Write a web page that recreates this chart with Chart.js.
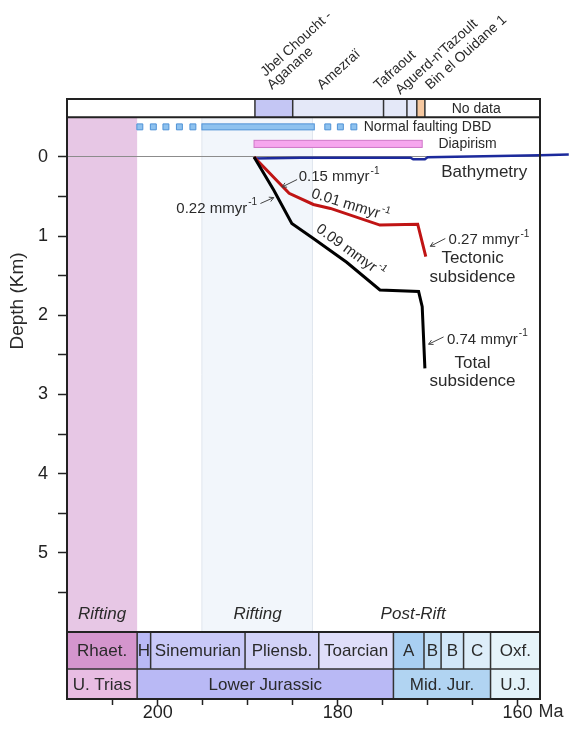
<!DOCTYPE html>
<html>
<head>
<meta charset="utf-8">
<script src="https://cdn.jsdelivr.net/npm/chart.js@4.4.1/dist/chart.umd.min.js"></script>
<style>
html, body { margin: 0; padding: 0; background: #fff; }
#wrap { width: 569px; height: 736px; }
</style>
</head>
<body>
<div id="wrap"><canvas id="subsidenceChart"></canvas></div>
<script>
// ages in Ma, depths in km
const totalAge   = [189.3, 187.1, 185.1, 182.7, 179.0, 175.3, 171.0, 170.6, 170.3];
const totalDepth = [0.0,   0.42,  0.84,  1.03,  1.33,  1.68,  1.70,  1.89,  2.67];

const tectonicAge   = [189.3, 185.4, 182.7, 180.8, 175.3, 171.1, 170.2];
const tectonicDepth = [0.0,   0.46,  0.60,  0.65,  0.86,  0.85,  1.26];

const bathyAge   = [189.3, 184.1, 171.9, 171.6, 170.3, 170.0, 157.5, 154.3];
const bathyDepth = [0.02,  0.01,  0.01,  0.03,  0.03,  0.005, -0.02, -0.03];

const faultDots = [202.0, 200.5, 199.1, 197.6, 196.1, 181.1, 179.7, 178.2];
const faultBar  = [195.1, 182.6];
const diapirism = [189.3, 170.6];

const riftBands  = [[210.1, 202.3], [195.1, 182.8]];
const phaseNames = ['Rifting', 'Rifting', 'Post-Rift'];
const phaseAges  = [206.2, 188.9, 171.6];

const siteNames  = [['Jbel Choucht -', 'Aganane'], ['Amezraï'], ['Tafraout'], ["Aguerd-n'Tazoult"], ['Bin el Ouidane 1']];
const siteBounds = [189.2, 185.0, 174.9, 172.3, 171.2, 170.3];

const stageNames  = ['Rhaet.', 'H', 'Sinemurian', 'Pliensb.', 'Toarcian', 'A', 'B', 'B', 'C', 'Oxf.'];
const stageBounds = [210.1, 202.3, 200.8, 190.3, 182.1, 173.8, 170.4, 168.5, 166.0, 163.0, 157.5];
const seriesNames  = ['U. Trias', 'Lower Jurassic', 'Mid. Jur.', 'U.J.'];
const seriesBounds = [210.1, 202.3, 173.8, 163.0, 157.5];

const rateValues = ['0.22', '0.15', '0.01', '0.09', '0.27', '0.74'];

const depthTicks = [0, 0.5, 1, 1.5, 2, 2.5, 3, 3.5, 4, 4.5, 5, 5.5];
const ageTicks   = [160, 165, 170, 175, 180, 185, 190, 195, 200, 205];
const ageLabels  = [160, 180, 200];

// styles
const FONT = '"Liberation Sans", Arial, sans-serif';
const stageColors  = ['#d495cd', '#b9b9f6', '#c9c9f8', '#d2d2f8', '#dfdefa', '#a9cff2', '#c1def6', '#d1e6f8', '#ddedf9', '#e6f4fa'];
const seriesColors = ['#e8bde3', '#b9b9f5', '#b1d4f2', '#e3f2f9'];
const siteColors   = ['#c4c6f4', '#e4e8f8', '#e4e8f8', '#e4e8f8', '#f6c8a0'];

function pairs(xs, ys) {
    return xs.map((v, i) => ({x: v, y: ys[i]}));
}

function arrow(ctx, x1, y1, x2, y2) {
    const ang = Math.atan2(y2 - y1, x2 - x1);
    const h = 5;
    ctx.beginPath();
    ctx.moveTo(x1, y1);
    ctx.lineTo(x2, y2);
    ctx.moveTo(x2 - h * Math.cos(ang - 0.5), y2 - h * Math.sin(ang - 0.5));
    ctx.lineTo(x2, y2);
    ctx.lineTo(x2 - h * Math.cos(ang + 0.5), y2 - h * Math.sin(ang + 0.5));
    ctx.stroke();
}

function rate(ctx, value, x, y, align, rot) {
    const main = value + ' mmyr';
    ctx.font = '15px ' + FONT;
    const w1 = ctx.measureText(main).width;
    ctx.font = '10px ' + FONT;
    const w2 = ctx.measureText('-1').width;
    const total = w1 + w2 + 1;
    let left = 0;
    if (align == 'right') left = -total;
    if (align == 'center') left = -total / 2;
    ctx.save();
    ctx.translate(x, y);
    if (rot) ctx.rotate(rot);
    ctx.textAlign = 'left';
    ctx.textBaseline = 'middle';
    ctx.font = '15px ' + FONT;
    ctx.fillText(main, left, 0);
    ctx.font = '10px ' + FONT;
    ctx.fillText('-1', left + w1 + 1, -6);
    ctx.restore();
}

const yMin = -0.732, yMax = 6.846;
const tableTop = 6.0, tableMid = 6.467, barBottom = -0.5;

const decor = {
    id: 'decor',
    beforeDraw(chart) {
        const ctx = chart.ctx;
        const x = chart.scales.x, y = chart.scales.y;
        const px = v => x.getPixelForValue(v);
        const py = v => y.getPixelForValue(v);
        ctx.save();
        // phase bands
        ctx.fillStyle = '#e7c7e5';
        ctx.fillRect(px(riftBands[0][0]), py(barBottom), px(riftBands[0][1]) - px(riftBands[0][0]), py(tableTop) - py(barBottom));
        ctx.fillStyle = '#f2f6fb';
        ctx.fillRect(px(riftBands[1][0]), py(barBottom), px(riftBands[1][1]) - px(riftBands[1][0]), py(tableTop) - py(barBottom));
        ctx.strokeStyle = '#e0e6ee';
        ctx.lineWidth = 1;
        ctx.beginPath();
        ctx.moveTo(px(riftBands[1][0]), py(barBottom)); ctx.lineTo(px(riftBands[1][0]), py(tableTop));
        ctx.moveTo(px(riftBands[1][1]), py(barBottom)); ctx.lineTo(px(riftBands[1][1]), py(tableTop));
        ctx.stroke();

        // site bar
        for (let i = 0; i < siteColors.length; i++) {
            ctx.fillStyle = siteColors[i];
            ctx.fillRect(px(siteBounds[i]), py(yMin), px(siteBounds[i + 1]) - px(siteBounds[i]), py(barBottom) - py(yMin));
        }
        // stratigraphic table
        for (let i = 0; i < stageNames.length; i++) {
            ctx.fillStyle = stageColors[i];
            ctx.fillRect(px(stageBounds[i]), py(tableTop), px(stageBounds[i + 1]) - px(stageBounds[i]), py(tableMid) - py(tableTop));
        }
        for (let i = 0; i < seriesNames.length; i++) {
            ctx.fillStyle = seriesColors[i];
            ctx.fillRect(px(seriesBounds[i]), py(tableMid), px(seriesBounds[i + 1]) - px(seriesBounds[i]), py(yMax) - py(tableMid));
        }

        // normal faulting + diapirism bars
        ctx.fillStyle = '#8ec2ef';
        ctx.strokeStyle = '#4f92d6';
        ctx.fillRect(px(faultBar[0]), py(-0.38) - 3, px(faultBar[1]) - px(faultBar[0]), 6);
        ctx.strokeRect(px(faultBar[0]), py(-0.38) - 3, px(faultBar[1]) - px(faultBar[0]), 6);
        ctx.fillStyle = '#f6a6ee';
        ctx.strokeStyle = '#cf78c8';
        ctx.fillRect(px(diapirism[0]), py(-0.21), px(diapirism[1]) - px(diapirism[0]), py(-0.12) - py(-0.21));
        ctx.strokeRect(px(diapirism[0]), py(-0.21), px(diapirism[1]) - px(diapirism[0]), py(-0.12) - py(-0.21));
        ctx.restore();
    },
    afterDraw(chart) {
        const ctx = chart.ctx;
        const a = chart.chartArea;
        const x = chart.scales.x, y = chart.scales.y;
        const px = v => x.getPixelForValue(v);
        const py = v => y.getPixelForValue(v);
        ctx.save();

        // cell borders
        ctx.strokeStyle = '#333';
        ctx.lineWidth = 1.5;
        ctx.beginPath();
        for (let i = 0; i < siteBounds.length; i++) {
            ctx.moveTo(px(siteBounds[i]), py(yMin)); ctx.lineTo(px(siteBounds[i]), py(barBottom));
        }
        for (let i = 1; i < stageBounds.length - 1; i++) {
            ctx.moveTo(px(stageBounds[i]), py(tableTop)); ctx.lineTo(px(stageBounds[i]), py(tableMid));
        }
        for (let i = 1; i < seriesBounds.length - 1; i++) {
            ctx.moveTo(px(seriesBounds[i]), py(tableMid)); ctx.lineTo(px(seriesBounds[i]), py(yMax));
        }
        ctx.moveTo(a.left, py(tableMid)); ctx.lineTo(a.right, py(tableMid));
        ctx.stroke();

        // frame
        ctx.strokeStyle = '#222';
        ctx.lineWidth = 2;
        ctx.strokeRect(a.left, a.top, a.right - a.left, a.bottom - a.top);
        ctx.beginPath();
        ctx.moveTo(a.left, py(barBottom)); ctx.lineTo(a.right, py(barBottom));
        ctx.moveTo(a.left, py(tableTop)); ctx.lineTo(a.right, py(tableTop));
        ctx.stroke();

        // table text
        ctx.fillStyle = '#2a2a2a';
        ctx.textAlign = 'center';
        ctx.textBaseline = 'middle';
        ctx.font = '17px ' + FONT;
        for (let i = 0; i < stageNames.length; i++) {
            ctx.fillText(stageNames[i], (px(stageBounds[i]) + px(stageBounds[i + 1])) / 2, (py(tableTop) + py(tableMid)) / 2 + 1);
        }
        for (let i = 0; i < seriesNames.length; i++) {
            ctx.fillText(seriesNames[i], (px(seriesBounds[i]) + px(seriesBounds[i + 1])) / 2, (py(tableMid) + py(yMax)) / 2 + 1);
        }
        ctx.font = 'italic 17px ' + FONT;
        for (let i = 0; i < phaseNames.length; i++) {
            ctx.fillText(phaseNames[i], px(phaseAges[i]), py(5.77));
        }

        // row labels
        ctx.font = '14px ' + FONT;
        ctx.fillText('No data', px(164.6), (py(yMin) + py(barBottom)) / 2 + 1);
        ctx.textAlign = 'left';
        ctx.fillText('Normal faulting DBD', px(177.1), py(-0.38));
        ctx.fillText('Diapirism', px(168.8), py(-0.165));

        // site labels, rotated
        const siteAnchors = [[[188.03, 77], [187.29, 90]], [[181.73, 90]], [[175.44, 90]], [[173.03, 95]], [[169.7, 90]]];
        ctx.textBaseline = 'alphabetic';
        for (let i = 0; i < siteNames.length; i++) {
            siteNames[i].forEach((line, j) => {
                ctx.save();
                ctx.translate(px(siteAnchors[i][j][0]), siteAnchors[i][j][1]);
                ctx.rotate(-42 * Math.PI / 180);
                ctx.fillText(line, 0, 0);
                ctx.restore();
            });
        }

        // curve labels
        ctx.textAlign = 'center';
        ctx.textBaseline = 'middle';
        ctx.font = '17px ' + FONT;
        ctx.fillText('Bathymetry', px(163.7), py(0.19));
        ctx.fillText('Tectonic', px(165.0), py(1.283));
        ctx.fillText('subsidence', px(165.0), py(1.515));
        ctx.fillText('Total', px(165.0), py(2.60));
        ctx.fillText('subsidence', px(165.0), py(2.83));

        // rates
        rate(ctx, rateValues[0], px(188.96), py(0.652), 'right');
        rate(ctx, rateValues[1], px(184.33), py(0.253), 'left');
        rate(ctx, rateValues[2], px(178.6), py(0.61), 'center', 17 * Math.PI / 180);
        rate(ctx, rateValues[3], px(178.6), py(1.19), 'center', 36 * Math.PI / 180);
        rate(ctx, rateValues[4], px(167.67), py(1.052), 'left');
        rate(ctx, rateValues[5], px(167.84), py(2.306), 'left');

        ctx.strokeStyle = '#444';
        ctx.lineWidth = 1;
        arrow(ctx, px(188.59), py(0.588), px(187.11), py(0.513));
        arrow(ctx, px(184.51), py(0.285), px(186.18), py(0.379));
        arrow(ctx, px(168.03), py(1.03), px(169.7), py(1.128));
        arrow(ctx, px(168.22), py(2.273), px(169.89), py(2.365));

        // axis extras
        ctx.font = '18px ' + FONT;
        ctx.textAlign = 'left';
        ctx.fillText('Ma', px(160) + 21, 712);
        ctx.save();
        ctx.translate(18, 301);
        ctx.rotate(-Math.PI / 2);
        ctx.textAlign = 'center';
        ctx.font = '19px ' + FONT;
        ctx.fillText('Depth (Km)', 0, 0);
        ctx.restore();

        ctx.restore();
    }
};

const subsidenceConfig = {
    type: 'scatter',
    data: {
        datasets: [{
            label: 'Total subsidence',
            data: pairs(totalAge, totalDepth),
            showLine: true,
            borderColor: '#000',
            borderWidth: 3,
            pointRadius: 0
        }, {
            label: 'Tectonic subsidence',
            data: pairs(tectonicAge, tectonicDepth),
            showLine: true,
            borderColor: '#c01414',
            borderWidth: 3,
            pointRadius: 0
        }, {
            label: 'Bathymetry',
            data: pairs(bathyAge, bathyDepth),
            showLine: true,
            borderColor: '#1c2a9c',
            borderWidth: 2.5,
            pointRadius: 0,
            clip: false
        }, {
            label: 'Normal faulting DBD',
            data: faultDots.map(v => ({x: v, y: -0.38})),
            pointStyle: 'rect',
            pointRadius: 4.2,
            backgroundColor: '#8ec2ef',
            borderColor: '#4f92d6',
            borderWidth: 1
        }]
    },
    options: {
        responsive: true,
        maintainAspectRatio: false,
        animation: false,
        layout: {
            padding: {left: 0, right: 29, top: 99, bottom: 0}
        },
        plugins: {
            legend: {display: false},
            tooltip: {enabled: false}
        },
        scales: {
            x: {
                type: 'linear',
                reverse: true,
                min: 157.5,
                max: 210.1,
                afterFit: function(scale) { scale.height = 37; },
                afterBuildTicks: function(scale) { scale.ticks = ageTicks.map(v => ({value: v})); },
                grid: {drawOnChartArea: false, tickLength: 6, tickColor: '#222', tickWidth: 1.5},
                border: {display: true, color: '#222', width: 2},
                ticks: {
                    autoSkip: false,
                    maxRotation: 0,
                    padding: -3,
                    color: '#222',
                    font: {family: FONT, size: 18},
                    callback: function(value) { return ageLabels.includes(value) ? String(value) : ''; }
                }
            },
            y: {
                type: 'linear',
                reverse: true,
                min: yMin,
                max: yMax,
                afterFit: function(scale) { scale.width = 67; },
                afterBuildTicks: function(scale) { scale.ticks = depthTicks.map(v => ({value: v})); },
                grid: {
                    color: function(c) { return c.tick && c.tick.value === 0 ? '#8c8c8c' : 'rgba(0,0,0,0)'; },
                    tickColor: '#222',
                    tickLength: 9,
                    tickWidth: 1.5,
                    lineWidth: 1
                },
                border: {display: true, color: '#222', width: 2},
                ticks: {
                    autoSkip: false,
                    padding: 10,
                    color: '#222',
                    font: {family: FONT, size: 18},
                    callback: function(value) { return Number.isInteger(value) ? String(value) : ''; }
                }
            }
        }
    },
    plugins: [decor]
};

new Chart(document.getElementById('subsidenceChart'), subsidenceConfig);
</script>
</body>
</html>
